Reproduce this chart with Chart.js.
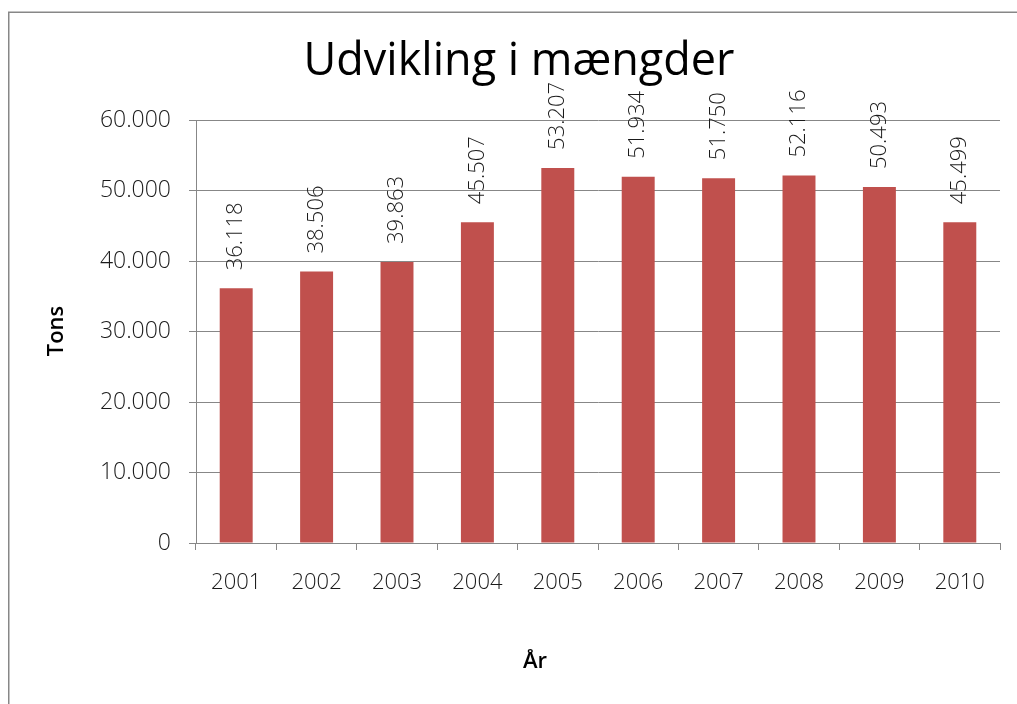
<!DOCTYPE html>
<html>
<head>
<meta charset="utf-8">
<title>Udvikling i mængder</title>
<script src="https://cdn.jsdelivr.net/npm/chart.js@4"></script>
<style>
  html, body { margin: 0; padding: 0; background: #fff; }
  #chartBox { position: relative; width: 1017px; height: 704px; }
</style>
</head>
<body>
<div id="chartBox"><canvas id="TonsCanvas" width="1017" height="704"></canvas></div>
<script>
// data
const years = ['2001', '2002', '2003', '2004', '2005', '2006', '2007', '2008', '2009', '2010']
const tons = [36118, 38506, 39863, 45507, 53207, 51934, 51750, 52116, 50493, 45499]
const yMax = 60000
const yStep = 10000

const chartTitle = 'Udvikling i mængder'
const yTitle = 'Tons'
const xTitle = 'År'

const fontFam = '"Open Sans", "DejaVu Sans", sans-serif'
const gridGray = '#878787'
const textCol = '#1a1a1a'

// danish thousands separator: 36118 -> 36.118
function fmtDk(v) {
    return String(Math.round(v)).replace(/\B(?=(\d{3})+(?!\d))/g, '.')
}

// frame, title, axis titles and rotated value labels
const decoPlugin = {
    id: 'deco',
    beforeDraw(chart) {
        const ctx = chart.ctx
        ctx.save()
        ctx.strokeStyle = gridGray
        ctx.lineWidth = 1.5
        ctx.strokeRect(8.75, 12.25, 1200, 900)
        ctx.restore()
    },
    afterDraw(chart) {
        const ctx = chart.ctx
        ctx.save()
        ctx.fillStyle = '#000'
        ctx.textAlign = 'center'
        ctx.textBaseline = 'alphabetic'
        ctx.font = '45px ' + fontFam
        ctx.fillText(chartTitle, 519, 75)

        ctx.font = '600 22px ' + fontFam
        ctx.textBaseline = 'middle'
        ctx.fillText(xTitle, 535, 662)
        ctx.translate(57, 331)
        ctx.rotate(-Math.PI / 2)
        ctx.fillText(yTitle, 0, 0)
        ctx.restore()
    },
    afterDatasetsDraw(chart) {
        const ctx = chart.ctx
        const meta = chart.getDatasetMeta(0)
        ctx.save()
        ctx.fillStyle = textCol
        ctx.font = '350 22px ' + fontFam
        ctx.textAlign = 'left'
        ctx.textBaseline = 'middle'
        meta.data.forEach((bar, i) => {
            ctx.save()
            ctx.translate(bar.x, bar.y - 18)
            ctx.rotate(-Math.PI / 2)
            ctx.fillText(fmtDk(tons[i]), 0, 0)
            ctx.restore()
        })
        ctx.restore()
    }
}

new Chart(document.getElementById('TonsCanvas'), {
    type: 'bar',
    data: {
        labels: years,
        datasets: [{
            label: 'Tons',
            data: tons,
            backgroundColor: '#C0504D',
            borderWidth: 0,
            categoryPercentage: 1,
            barPercentage: 0.41
        }]
    },
    options: {
        responsive: false,
        animation: false,
        layout: { padding: { top: 120, right: 17, left: 0, bottom: 0 } },
        plugins: {
            legend: { display: false },
            tooltip: { enabled: false },
            title: { display: false }
        },
        scales: {
            x: {
                offset: true,
                grid: {
                    offset: true,
                    drawOnChartArea: false,
                    drawTicks: true,
                    tickLength: 7,
                    color: gridGray
                },
                border: { color: gridGray, width: 1 },
                ticks: {
                    color: textCol,
                    font: { family: fontFam, size: 22, weight: '350' },
                    padding: 20,
                    maxRotation: 0
                },
                afterFit(scale) { scale.height = 161 }
            },
            y: {
                min: 0,
                max: yMax,
                grid: {
                    color: gridGray,
                    tickLength: 7
                },
                border: { color: gridGray, width: 1 },
                ticks: {
                    stepSize: yStep,
                    color: textCol,
                    font: { family: fontFam, size: 23, weight: '350' },
                    padding: 18,
                    callback: (v) => fmtDk(v)
                },
                afterFit(scale) { scale.width = 196 }
            }
        }
    },
    plugins: [decoPlugin]
})
</script>
</body>
</html>
